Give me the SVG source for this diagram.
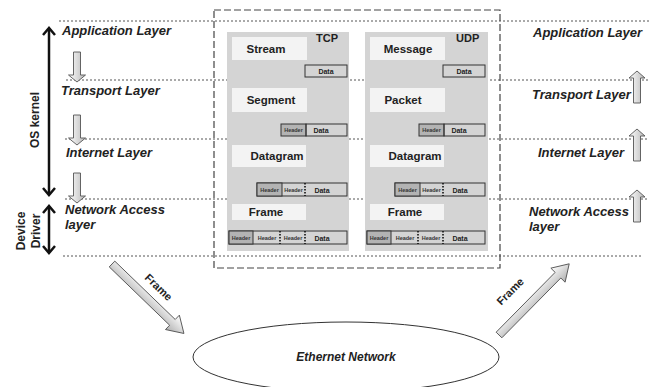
<svg xmlns="http://www.w3.org/2000/svg" width="669" height="387" viewBox="0 0 669 387">
<style>
.lay{font-family:"Liberation Sans",Arial,sans-serif;font-weight:bold;font-style:italic;font-size:13px;fill:#222}
.lbl{font-family:"Liberation Sans",Arial,sans-serif;font-weight:bold;font-size:11.5px;fill:#222;text-anchor:middle}
.proto{font-family:"Liberation Sans",Arial,sans-serif;font-weight:bold;font-size:11px;fill:#222}
.tiny{font-family:"Liberation Sans",Arial,sans-serif;font-weight:bold;font-size:5.5px;fill:#333;text-anchor:middle}
.dat{font-family:"Liberation Sans",Arial,sans-serif;font-weight:bold;font-size:7px;fill:#222;text-anchor:middle}
.side{font-family:"Liberation Sans",Arial,sans-serif;font-weight:bold;font-size:12px;fill:#222;text-anchor:middle}
.dot{stroke:#555;stroke-width:1;stroke-dasharray:2 2;fill:none}
.gray{fill:#d4d4d4}
.wbox{fill:#f3f3f3}
.row{fill:none;stroke:#333;stroke-width:1}
.hdr{fill:#b3b3b3;stroke:#333;stroke-width:1}
.sep{stroke:#111;stroke-width:1.6;stroke-dasharray:1.5 1.5}
.blk{stroke:#555;stroke-width:0.9;fill:url(#gv)}
.blkd{stroke:#555;stroke-width:0.9;fill:url(#gd)}
.thick{stroke:#111;stroke-width:2.5;fill:none}
</style>
<defs>
<linearGradient id="gv" x1="0" y1="0" x2="1" y2="0"><stop offset="0" stop-color="#ffffff"/><stop offset="1" stop-color="#b8b8b8"/></linearGradient>
<linearGradient id="gd" x1="0" y1="0" x2="0" y2="1"><stop offset="0" stop-color="#ffffff"/><stop offset="1" stop-color="#b0b0b0"/></linearGradient>
<path id="down" d="M-3.5,-30 L3.5,-30 L3.5,-7 L8.5,-7 L0,0 L-8.5,-7 L-3.5,-7 Z"/>
<path id="up" d="M-3.5,32 L3.5,32 L3.5,7 L8,7 L0,0 L-8,7 L-3.5,7 Z"/>
<path id="diag" d="M0,-4 L84,-4 L84,-10 L100,0 L84,10 L84,4 L0,4 Z"/>
</defs>

<g id="layer-lines">
<line class="dot" x1="59" y1="21" x2="649" y2="21"/>
<line class="dot" x1="66" y1="80" x2="649" y2="80"/>
<line class="dot" x1="65" y1="139" x2="648" y2="139"/>
<line class="dot" x1="65" y1="199" x2="648" y2="199"/>
<line class="dot" x1="63" y1="256" x2="643" y2="256"/>
</g>

<g id="stack-box">
<rect x="214" y="10" width="286" height="258" fill="none" stroke="#444" stroke-width="1.2" stroke-dasharray="7 3"/>
</g>

<g id="tcp">
<rect class="gray" x="227" y="32" width="122" height="219"/>
<text class="proto" x="316" y="42">TCP</text>
<rect class="wbox" x="232" y="37" width="75" height="23"/>
<text class="lbl" x="266" y="53">Stream</text>
<rect class="row" x="305" y="65" width="42" height="12"/>
<text class="dat" x="326" y="74">Data</text>
<rect class="wbox" x="232" y="88" width="75" height="24"/>
<text class="lbl" x="271" y="104">Segment</text>
<rect class="hdr" x="281" y="124" width="25" height="12"/>
<rect class="row" x="306" y="124" width="41" height="12"/>
<text class="tiny" x="293.5" y="132">Header</text>
<text class="dat" x="321" y="133">Data</text>
<rect class="wbox" x="232" y="145" width="74" height="22"/>
<text class="lbl" x="277" y="160">Datagram</text>
<rect class="row" x="257" y="183" width="90" height="13"/>
<rect class="hdr" x="257" y="183" width="25" height="13"/>
<line class="sep" x1="305" y1="183" x2="305" y2="196"/>
<text class="tiny" x="269.5" y="191.5">Header</text>
<text class="tiny" x="293.5" y="191.5">Header</text>
<text class="dat" x="322" y="192.5">Data</text>
<rect class="wbox" x="232" y="204" width="74" height="16"/>
<text class="lbl" x="266" y="216">Frame</text>
<rect class="row" x="229" y="231" width="118" height="13"/>
<rect class="hdr" x="229" y="231" width="24" height="13"/>
<line class="sep" x1="280" y1="231" x2="280" y2="244"/>
<line class="sep" x1="305" y1="231" x2="305" y2="244"/>
<text class="tiny" x="241" y="239.5">Header</text>
<text class="tiny" x="267" y="239.5">Header</text>
<text class="tiny" x="293" y="239.5">Header</text>
<text class="dat" x="322" y="240.5">Data</text>
</g>

<g id="udp" transform="translate(138,0)">
<rect class="gray" x="227" y="32" width="123" height="219"/>
<text class="proto" x="318" y="42">UDP</text>
<rect class="wbox" x="232" y="37" width="75" height="23"/>
<text class="lbl" x="270" y="53">Message</text>
<rect class="row" x="305" y="65" width="42" height="12"/>
<text class="dat" x="326" y="74">Data</text>
<rect class="wbox" x="232" y="88" width="75" height="24"/>
<text class="lbl" x="265" y="104">Packet</text>
<rect class="hdr" x="281" y="124" width="25" height="12"/>
<rect class="row" x="306" y="124" width="41" height="12"/>
<text class="tiny" x="293.5" y="132">Header</text>
<text class="dat" x="321" y="133">Data</text>
<rect class="wbox" x="232" y="145" width="74" height="22"/>
<text class="lbl" x="277" y="160">Datagram</text>
<rect class="row" x="257" y="183" width="90" height="13"/>
<rect class="hdr" x="257" y="183" width="25" height="13"/>
<line class="sep" x1="305" y1="183" x2="305" y2="196"/>
<text class="tiny" x="269.5" y="191.5">Header</text>
<text class="tiny" x="293.5" y="191.5">Header</text>
<text class="dat" x="322" y="192.5">Data</text>
<rect class="wbox" x="232" y="204" width="74" height="16"/>
<text class="lbl" x="267" y="216">Frame</text>
<rect class="row" x="229" y="231" width="118" height="13"/>
<rect class="hdr" x="229" y="231" width="24" height="13"/>
<line class="sep" x1="280" y1="231" x2="280" y2="244"/>
<line class="sep" x1="305" y1="231" x2="305" y2="244"/>
<text class="tiny" x="241" y="239.5">Header</text>
<text class="tiny" x="267" y="239.5">Header</text>
<text class="tiny" x="293" y="239.5">Header</text>
<text class="dat" x="322" y="240.5">Data</text>
</g>

<g id="left-labels">
<text class="lay" x="62" y="35">Application Layer</text>
<text class="lay" x="61" y="95">Transport Layer</text>
<text class="lay" x="66" y="157">Internet Layer</text>
<text class="lay" x="65" y="214">Network Access</text>
<text class="lay" x="65" y="228.5">layer</text>
</g>

<g id="right-labels">
<text class="lay" x="533" y="37">Application Layer</text>
<text class="lay" x="532" y="99">Transport Layer</text>
<text class="lay" x="538" y="157">Internet Layer</text>
<text class="lay" x="529" y="216">Network Access</text>
<text class="lay" x="529" y="230.5">layer</text>
</g>

<g id="os-kernel">
<line class="thick" x1="49" y1="29" x2="49" y2="194"/>
<polyline class="thick" points="43,35 49,28 55,35"/>
<polyline class="thick" points="43,188 49,195 55,188"/>
<text class="side" transform="translate(39,120) rotate(-90)">OS kernel</text>
</g>

<g id="device-driver">
<line class="thick" x1="49" y1="207" x2="49" y2="252"/>
<polyline class="thick" points="43,213 49,206 55,213"/>
<polyline class="thick" points="43,246 49,253 55,246"/>
<text class="side" transform="translate(25,231) rotate(-90)">Device</text>
<text class="side" transform="translate(40,231) rotate(-90)">Driver</text>
</g>

<g id="ethernet">
<ellipse cx="346" cy="357" rx="153" ry="35" fill="#fff" stroke="#333" stroke-width="1"/>
<text class="lay" x="346" y="361" text-anchor="middle" style="font-size:12px">Ethernet Network</text>
</g>

<g id="connectors">
<use href="#down" class="blk" x="77" y="82"/>
<use href="#down" class="blk" x="77" y="145"/>
<use href="#down" class="blk" x="77" y="203"/>
<use href="#up" class="blk" x="637" y="71"/>
<use href="#up" class="blk" x="637" y="129"/>
<use href="#up" class="blk" x="637" y="190"/>
<use href="#diag" class="blkd" transform="translate(112,264) rotate(44)"/>
<use href="#diag" class="blkd" transform="translate(499,335) rotate(-45.4)"/>
<text class="side" style="font-size:11px" transform="translate(156,290) rotate(44)">Frame</text>
<text class="side" style="font-size:11px" transform="translate(513,294) rotate(-45)">Frame</text>
</g>
</svg>
